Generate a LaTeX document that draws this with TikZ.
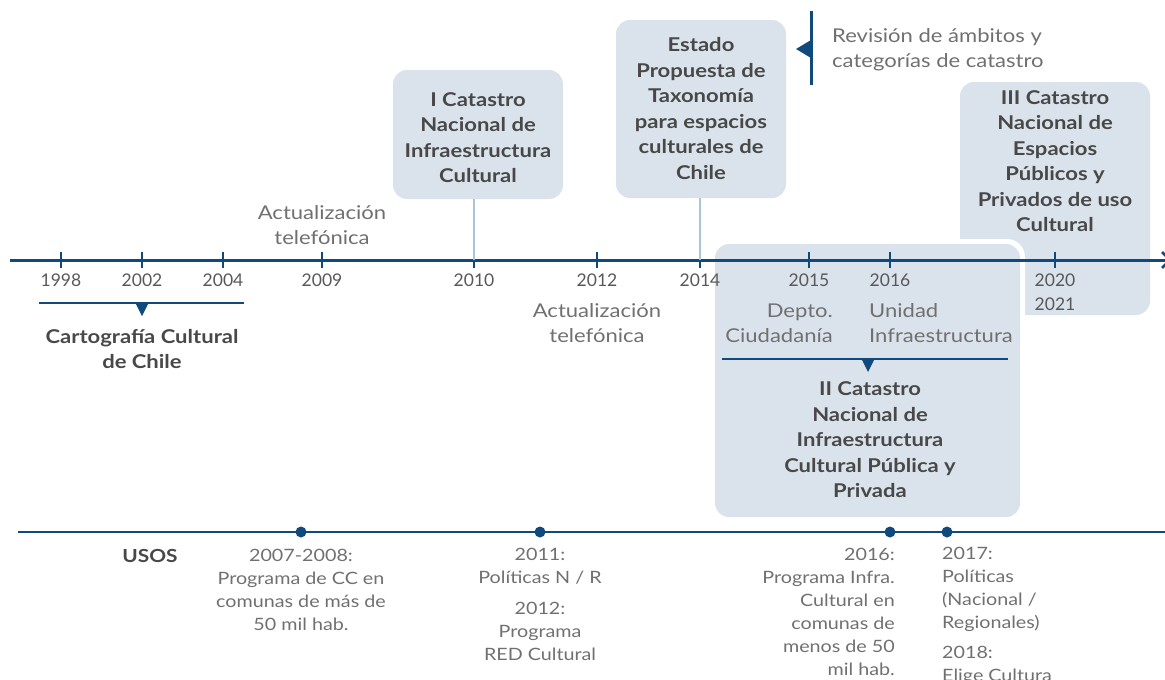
\documentclass[tikz,border=0pt]{standalone}
\usepackage{fontspec}
\setmainfont{Lato}
\newfontfamily\widefont[FakeStretch=1.16]{Lato}
\definecolor{dblue}{RGB}{16,74,124}
\definecolor{boxfill}{RGB}{218,227,236}
\definecolor{conn}{RGB}{172,196,216}
\definecolor{darktext}{RGB}{72,72,72}
\definecolor{lighttext}{RGB}{112,112,112}
\definecolor{yeartext}{RGB}{88,88,88}
\tikzset{
  boxst/.style={fill=boxfill, rounded corners=14pt, inner sep=0pt, draw=none},
  boldtxt/.style={font=\widefont\fontsize{19}{25.5}\selectfont\bfseries, text=darktext, align=center, inner sep=0pt},
  lighttxt/.style={font=\widefont\fontsize{19}{25}\selectfont, text=lighttext, align=center, inner sep=0pt},
  usostxt/.style={font=\widefont\fontsize{17}{23}\selectfont, text=lighttext, align=center, inner sep=0pt},
  yearlbl/.style={font=\fontsize{17.5}{24}\selectfont, text=yeartext, inner sep=0pt, align=center},
  axisline/.style={draw=dblue, line width=3pt},
  tickst/.style={draw=dblue, line width=2.5pt},
  bracket/.style={draw=dblue, line width=2.5pt},
  connst/.style={draw=conn, line width=2pt},
  dotst/.style={circle, fill=dblue, minimum size=11pt, inner sep=0pt},
}
\begin{document}
\begin{tikzpicture}[x=1pt,y=-1pt]
\useasboundingbox (0,0) rectangle (1165,680);

% boxes
\node[boxst, minimum width=190pt, minimum height=233pt] (box3) at (1055,198.5) {};
\fill[white, rounded corners=18pt] (710,239) rectangle (1025,522);
\node[boxst, minimum width=305pt, minimum height=273pt] (box2) at (867.5,380.5) {};
\node[boxst, minimum width=170pt, minimum height=129pt] (box1) at (478,134.5) {};
\node[boxst, minimum width=170pt, minimum height=178pt] (boxe) at (701,109) {};

% box texts
\node[boldtxt] (t1) at (478,137.5) {I Catastro\\Nacional de\\Infraestructura\\Cultural};
\node[boldtxt] (te) at (701,108.5) {Estado\\Propuesta de\\Taxonomía\\para espacios\\culturales de\\Chile};
\node[boldtxt] (t3) at (1055,161) {III Catastro\\Nacional de\\Espacios\\Públicos y\\Privados de uso\\Cultural};
\node[boldtxt] (t2) at (870,440) {II Catastro\\Nacional de\\Infraestructura\\Cultural Pública y\\Privada};

% main axis
\coordinate (axL) at (10,260);
\coordinate (axR) at (1166,260);
\draw[axisline] (axL) -- (axR);
\coordinate (chevA) at (1162,252);
\coordinate (chevB) at (1170,260);
\coordinate (chevC) at (1162,268);
\draw[dblue, line width=2.5pt] (chevA) -- (chevB) -- (chevC);

% ticks and years
\foreach \yr/\xx in {1998/61,2002/142,2004/223,2009/322,2010/474,2012/597,2014/700,2015/809,2016/890,2020/1055}{
  \coordinate (t\yr) at (\xx,260);
  \draw[tickst] (\xx,252) -- (\xx,268);
}
\foreach \yr/\xx in {1998/61,2002/142,2004/223,2009/322,2010/474,2012/597,2014/700,2015/809,2016/890}{
  \node[yearlbl] (y\yr) at (\xx,280) {\yr};
}
\node[yearlbl] (y2020) at (1055,292) {2020\\2021};

% connectors from boxes
\draw[connst] (box1.south -| t2010) -- (t2010);
\draw[connst] (boxe.south -| t2014) -- (t2014);

% Cartografia bracket
\coordinate (cbL) at (39,303);
\coordinate (cbR) at (244,303);
\draw[bracket] (cbL) -- (cbR);
\fill[dblue] (135.5,303) -- (148.5,303) -- (142,316) -- cycle;
\node[boldtxt] (carto) at (142,349) {Cartografía Cultural\\de Chile};

% Actualizacion
\node[lighttxt] (act1) at (322,225) {Actualización\\telefónica};
\node[lighttxt] (act2) at (597,323.5) {Actualización\\telefónica};

% Revision
\coordinate (revT) at (811,11);
\coordinate (revB) at (811,85);
\draw[dblue, line width=3pt] (revT) -- (revB);
\fill[dblue] (811,40) -- (811,58) -- (796,49) -- cycle;
\node[lighttxt, align=left, anchor=west] (rev) at (832,49.5) {Revisión de ámbitos y\\categorías de catastro};

% 2015 / 2016 texts
\node[lighttxt, align=right, anchor=east] (depto) at (833,323.5) {Depto.\\Ciudadanía};
\node[lighttxt, align=left, anchor=west] (unidad) at (869,323.5) {Unidad\\Infraestructura};
\coordinate (b2L) at (722,359);
\coordinate (b2R) at (1008,359);
\draw[bracket] (b2L) -- (b2R);
\fill[dblue] (861.5,359) -- (874.5,359) -- (868,372) -- cycle;

% USOS axis
\coordinate (uL) at (18,532);
\coordinate (uR) at (1165,532);
\draw[dblue, line width=1.8pt] (uL) -- (uR);
\node[dotst] (d1) at (301,532) {};
\node[dotst] (d2) at (540,532) {};
\node[dotst] (d3) at (890,532) {};
\node[dotst] (d4) at (947,532) {};
\node[font=\widefont\fontsize{18}{23}\selectfont\bfseries, text=darktext, inner sep=0pt] (usos) at (150,556) {USOS};

\node[usostxt] (u1) at (301,589.5) {2007-2008:\\Programa de CC en\\comunas de más de\\50 mil hab.};
\node[usostxt] (u2a) at (540,566.5) {2011:\\Políticas N / R};
\node[usostxt] (u2b) at (540,631) {2012:\\Programa\\RED Cultural};
\node[usostxt, align=right, anchor=east] (u3) at (895,612) {2016:\\Programa Infra.\\Cultural en\\comunas de\\menos de 50\\mil hab.};
\node[usostxt, align=left, anchor=west] (u4a) at (942,589.5) {2017:\\Políticas\\(Nacional /\\Regionales)};
\node[usostxt, align=left, anchor=west] (u4b) at (942,665) {2018:\\Elige Cultura};
\end{tikzpicture}
\end{document}
